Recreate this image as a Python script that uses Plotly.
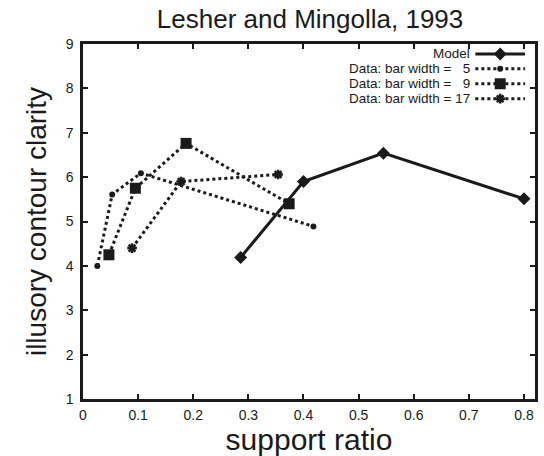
import plotly.graph_objects as go

# Illusory contour clarity vs. support ratio (Lesher & Mingolla, 1993)
model_x = [0.286, 0.400, 0.545, 0.800]
model_y = [4.19, 5.90, 6.54, 5.51]

bw5_x = [0.026, 0.053, 0.105, 0.418]
bw5_y = [4.00, 5.61, 6.09, 4.89]

bw9_x = [0.047, 0.095, 0.187, 0.374]
bw9_y = [4.25, 5.75, 6.76, 5.40]

bw17_x = [0.089, 0.178, 0.354]
bw17_y = [4.40, 5.90, 6.06]

series_names = ["Model",
                "Data: bar width =   5",
                "Data: bar width =   9",
                "Data: bar width = 17"]

x_ticks = [0, 0.1, 0.2, 0.3, 0.4, 0.5, 0.6, 0.7, 0.8]
x_tick_text = ["0", "0.1", "0.2", "0.3", "0.4", "0.5", "0.6", "0.7", "0.8"]
y_ticks = [1, 2, 3, 4, 5, 6, 7, 8, 9]

FONT = "Liberation Sans, Arial, Helvetica, sans-serif"
INK = "#1a1a1a"

styles = [
    dict(dash="solid", symbol="diamond", size=10, lw=0),
    dict(dash="dot", symbol="circle", size=6, lw=0),
    dict(dash="dot", symbol="square", size=11, lw=0),
    dict(dash="dot", symbol="asterisk", size=8, lw=2.5),
]
series = [(model_x, model_y), (bw5_x, bw5_y), (bw9_x, bw9_y), (bw17_x, bw17_y)]

fig = go.Figure()
for (xs, ys), st, name in zip(series, styles, series_names):
    fig.add_trace(go.Scatter(
        x=xs, y=ys, mode="lines+markers", name=name, showlegend=False,
        line=dict(color=INK, width=3, dash=st["dash"]),
        marker=dict(symbol=st["symbol"], size=st["size"], color=INK,
                    line=dict(color=INK, width=st["lw"])),
    ))

# Key in the upper right: label text on the left, sample on the right
key_rows = [0.972, 0.930, 0.888, 0.846]
for (st, name, ky) in zip(styles, series_names, key_rows):
    fig.add_trace(go.Scatter(
        x=[0.868, 0.978], y=[ky, ky], mode="lines", showlegend=False,
        xaxis="x2", yaxis="y2", hoverinfo="skip",
        line=dict(color=INK, width=3, dash=st["dash"]),
    ))
    fig.add_trace(go.Scatter(
        x=[0.923], y=[ky], mode="markers", showlegend=False,
        xaxis="x2", yaxis="y2", hoverinfo="skip",
        marker=dict(symbol=st["symbol"], size=st["size"], color=INK,
                    line=dict(color=INK, width=st["lw"])),
    ))
    fig.add_annotation(
        x=0.859, y=ky, xref="x2", yref="y2", text=name, showarrow=False,
        xanchor="right", yanchor="middle", borderpad=0,
        font=dict(family=FONT, size=13.5, color=INK),
    )

axis_common = dict(
    showline=True, linecolor=INK, linewidth=2.5, mirror="ticks",
    ticks="inside", ticklen=5, tickwidth=2, tickcolor=INK,
    showgrid=False, zeroline=False,
    tickfont=dict(family=FONT, size=14, color=INK),
)

fig.update_layout(
    width=544, height=456,
    margin=dict(l=83, r=6, t=44, b=57),
    paper_bgcolor="white", plot_bgcolor="white",
    title=dict(text="Lesher and Mingolla, 1993", x=0.57, xanchor="center",
               y=0.958, yanchor="middle",
               font=dict(family=FONT, size=26, color=INK)),
    xaxis=dict(range=[0, 0.82], tickvals=x_ticks, ticktext=x_tick_text,
               ticklabelstandoff=1,
               title=dict(text="support ratio", standoff=4,
                          font=dict(family=FONT, size=30, color=INK)),
               **axis_common),
    yaxis=dict(range=[1, 9], tickvals=y_ticks, ticklabelstandoff=4,
               title=dict(text="illusory contour clarity", standoff=11,
                          font=dict(family=FONT, size=28, color=INK)),
               **axis_common),
    xaxis2=dict(range=[0, 1], overlaying="x", visible=False, fixedrange=True),
    yaxis2=dict(range=[0, 1], overlaying="y", visible=False, fixedrange=True),
    showlegend=False,
)

fig.write_html("out.html")
